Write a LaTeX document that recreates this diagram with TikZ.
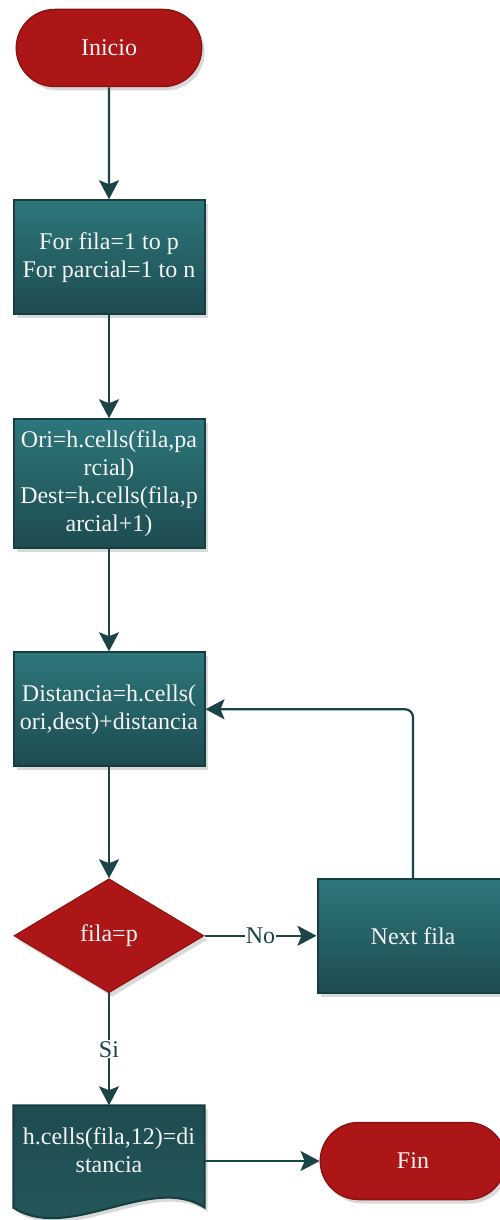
\documentclass[tikz,border=0pt]{standalone}
\usepackage{fontspec}
\setmainfont[Ligatures=NoCommon]{Liberation Serif}
\usepackage{tikz}
\usetikzlibrary{shapes,arrows.meta,positioning,shadows,backgrounds}
\definecolor{termred}{HTML}{AD1616}
\definecolor{termedge}{HTML}{8C1111}
\definecolor{tealtop}{HTML}{2D777B}
\definecolor{tealbot}{HTML}{1D4B50}
\definecolor{tealedge}{HTML}{163D40}
\definecolor{doctop}{HTML}{1E4C50}
\definecolor{docbot}{HTML}{24595C}
\definecolor{linecol}{HTML}{1A4447}
\definecolor{txtcol}{HTML}{F4F4F4}
\tikzstyle{shade} = [drop shadow={opacity=0.3,shadow xshift=3pt,shadow yshift=-4pt}]
\tikzstyle{term} = [rounded rectangle, draw=termedge, line width=1.5pt, fill=termred, text=txtcol, minimum width=192pt, minimum height=77pt, shade]
\tikzstyle{block} = [rectangle, draw=tealedge, line width=2pt, top color=tealtop, bottom color=tealbot, text=txtcol, minimum width=191pt, minimum height=114pt, inner sep=2pt, shade]
\tikzstyle{decision} = [diamond, aspect=1.667, draw=termedge, line width=1pt, fill=termred, text=txtcol, minimum width=190pt, minimum height=114pt, inner sep=0pt, shade]
\tikzstyle{docbox} = [rectangle, text=txtcol, minimum width=191pt, minimum height=90pt, inner sep=2pt]
\tikzstyle{docshape} = [draw=tealedge, line width=2pt, top color=doctop, bottom color=docbot, shade]
\tikzstyle{lbl} = [fill=white, text=linecol, inner sep=1pt]
\tikzset{
  line/.style ={draw=linecol, line width=2.2pt, -{Stealth[length=19pt,width=20pt,inset=4pt]}}
}

\begin{document}
\begin{tikzpicture}[every node/.style={align=center,font=\fontsize{24pt}{28pt}\selectfont}]
  \useasboundingbox (0,0) rectangle (499pt,-1220pt);
  \node[term] (start) at (109pt,-48pt) {Inicio};
  \node[block,below=112pt of start] (loop) {For fila=1 to p\\For parcial=1 to n};
  \node[block,below=103pt of loop,minimum height=129pt] (ori) {Ori=h.cells(fila,pa\\rcial)\\Dest=h.cells(fila,p\\arcial+1)};
  \node[block,below=102pt of ori] (dist) {Distancia=h.cells(\\ori,dest)+distancia};
  \node[decision,below=111pt of dist] (check) {fila=p};
  \node[block,right=112pt of check] (next) {Next fila};
  \node[docbox,below=112pt of check] (out) {h.cells(fila,12)=di\\stancia};
  \node[term,below=128pt of next] (stop) {Fin};

  % wavy bottom of the output box
  \begin{scope}[on background layer]
    \path[docshape] (out.north west) -- (out.north east) -- ([yshift=-12pt]out.south east)
      .. controls ([xshift=-54pt,yshift=23pt]out.south east) and ([xshift=56pt,yshift=-48pt]out.south west)
      .. ([yshift=-12pt]out.south west) -- cycle;
  \end{scope}

  \begin{scope}[every path/.style=line]
    \path (start) -- (loop);
    \path (loop) -- (ori);
    \path (ori) -- (dist);
    \path (dist) -- (check);
    \path[rounded corners=8pt] (next.north) |- (dist.east);
    \path (out.east |- stop.west) -- (stop.west);
  \end{scope}
  \path[line] (check.east) -- node[lbl] {No} (next.west);
  \path[line] (check.south) -- node[lbl] {Si} (out.north);

\end{tikzpicture}
\end{document}
